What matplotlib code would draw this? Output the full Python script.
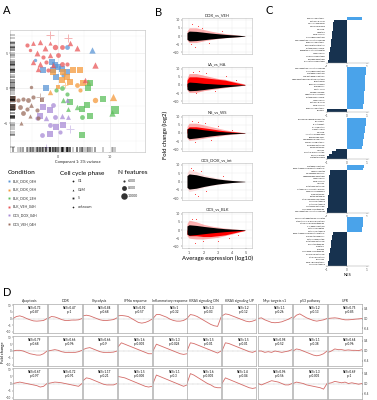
import matplotlib
matplotlib.use("Agg")
import matplotlib.pyplot as plt
import numpy as np

plt.rcParams['font.family'] = ['Lato', 'DejaVu Sans']

W, H = 377, 400
fig = plt.figure(figsize=(W / 100, H / 100), dpi=100)


def add_ax(l, t, r, b):
    return fig.add_axes([l / W, 1 - b / H, (r - l) / W, (b - t) / H])


# ---------------- Panel A data ----------------
cond_names = ["BLK_DOX_04H", "BLK_DOX_08H", "BLK_DOX_24H", "BLK_VEH_04H", "OCS_DOX_04H", "OCS_VEH_04H"]
cond_colors = ["#5b96d6", "#f59a3c", "#5cbf5c", "#e9585a", "#a98bd6", "#9a6e5e"]

blk_dox_04h_x = [-1.2, -0.6, 0.1, -0.9, 0.7, -2.8, 1.7, -2.2, 6.5, 1.7, -4.4, -0.3, 1.0]
blk_dox_04h_y = [3.8, 3.3, 3.0, 2.6, 2.8, 2.6, 2.3, 0.0, 5.4, 5.9, 4.0, 1.6, 1.9]
blk_dox_04h_phase = list("SSSSSSSSMGGSG")
blk_dox_04h_nfeat = [9000, 8500, 9500, 8000, 9000, 9500, 8500, 8000, 9000, 7500, 6500, 8000, 7000]

blk_dox_08h_x = [0.7, 1.7, 2.9, 4.2, 2.3, 3.6, 4.9, 5.8, -1.5, 0.1, 4.2, 7.1, 10.6, -0.9, 1.0, 1.3]
blk_dox_08h_y = [1.1, 1.6, 2.6, 2.6, 0.9, 0.4, 0.7, 0.9, -0.5, 0.2, -0.3, -1.7, -1.2, 2.3, 2.3, 0.4]
blk_dox_08h_phase = list("SSSSSGSMMSGGMSSU")
blk_dox_08h_nfeat = [8500, 8000, 8500, 8000, 9000, 7500, 9000, 8500, 8000, 7500, 7000, 8000, 10000, 8500, 8000, 7000]

blk_dox_24h_x = [-0.3, 0.7, 1.7, 1.0, 2.3, 3.6, 4.6, 5.5, 6.2, 5.8, 8.7, 11.0, 10.3, 6.2, 4.6, 4.6, 2.0]
blk_dox_24h_y = [-0.3, 0.0, -0.8, -1.7, -2.0, -2.7, -2.9, -2.4, 0.7, 0.0, -1.5, -3.1, -3.6, -3.9, -4.1, -6.7, -2.9]
blk_dox_24h_phase = list("GGGMSMSSSSSSMSGSM")
blk_dox_24h_nfeat = [7000, 7500, 7000, 8000, 8500, 8000, 9000, 9500, 8500, 9000, 9000, 10000, 9000, 9500, 7500, 8500, 7500]

blk_veh_04h_x = [-6.0, -4.8, -3.5, -2.5, -1.5, -0.6, 0.7, -4.1, -2.8, -1.5, 0.1, -4.8, -3.5, -2.2, -0.9, 0.7,
                 1.7, 2.3, 3.6, 7.1, 5.2, -5.4, -3.8, -1.9, -1.5, 2.0]
blk_veh_04h_y = [6.1, 6.4, 6.6, 5.7, 6.4, 5.9, 5.9, 5.0, 4.5, 4.7, 4.7, 3.8, 3.5, 3.8, 3.3, 3.5,
                 3.5, 6.4, 5.7, 3.3, 1.1, 5.4, 2.8, 2.6, 7.6, 7.1]
blk_veh_04h_phase = list("GMMMMGGMGMGMMGMGGMMMMGMGUU")
blk_veh_04h_nfeat = [7000, 7500, 8000, 8500, 7000, 8000, 7500, 8500, 7000, 8000, 7500, 8000, 8500, 7000, 8000, 7500,
                     7000, 8000, 8500, 9000, 8000, 6500, 8000, 7000, 9500, 8500]

ocs_dox_04h_x = [-2.8, -1.5, -0.9, -3.5, -2.2, -0.6, 0.7, 2.0, -1.5, -0.3, 1.0, -3.1, -1.5, 0.4, -4.1, 1.7, 2.3, -2.2]
ocs_dox_04h_y = [-2.7, -3.1, -2.4, -3.9, -4.3, -4.1, -3.9, -4.1, -5.3, -5.5, -5.3, -6.7, -6.5, -6.2, -4.3, -1.7, -5.8, -8.4]
ocs_dox_04h_phase = list("SSGSMGMMGSSGSGGMUU")
ocs_dox_04h_nfeat = [8500, 8000, 7500, 8500, 8000, 7500, 8000, 7500, 7500, 8500, 8000, 7500, 8000, 7000, 7000, 7500, 9000, 7500]

ocs_veh_04h_x = [-8.6, -7.6, -6.7, -5.7, -4.8, -7.3, -6.0, -5.1, -4.1, -6.7, -5.4, -3.8, -7.0, -5.1, -3.1, -8.6, -3.5]
ocs_veh_04h_y = [-1.5, -1.7, -1.5, -1.7, -1.2, -2.7, -2.9, -2.4, -3.1, -3.6, -3.9, -4.3, -5.0, 0.2, -1.7, -2.7, -1.2]
ocs_veh_04h_phase = list("SGGGGGGMGGMGMGSSU")
ocs_veh_04h_nfeat = [8000, 7000, 7000, 7500, 7000, 7500, 7000, 7500, 7000, 7500, 7000, 7000, 7000, 6500, 7500, 8000, 9000]

cond_x = [blk_dox_04h_x, blk_dox_08h_x, blk_dox_24h_x, blk_veh_04h_x, ocs_dox_04h_x, ocs_veh_04h_x]
cond_y = [blk_dox_04h_y, blk_dox_08h_y, blk_dox_24h_y, blk_veh_04h_y, ocs_dox_04h_y, ocs_veh_04h_y]
cond_phase = [blk_dox_04h_phase, blk_dox_08h_phase, blk_dox_24h_phase, blk_veh_04h_phase, ocs_dox_04h_phase, ocs_veh_04h_phase]
cond_nfeat = [blk_dox_04h_nfeat, blk_dox_08h_nfeat, blk_dox_24h_nfeat, blk_veh_04h_nfeat, ocs_dox_04h_nfeat, ocs_veh_04h_nfeat]

phase_names = ["G1", "G2M", "S", "unknown"]
phase_codes = ["G", "M", "S", "U"]
phase_markers = {"G": "o", "M": "^", "S": "s", "U": "+"}
nfeat_legend = [6000, 8000, 10000]


def nf_size(v):
    return 3 + (v - 6000) / 4000 * 24


# ---------------- Panel A drawing ----------------
fig.text(3 / W, 1 - 10 / H, "A", fontsize=8, va="center", ha="left")
axA = add_ax(10, 30, 145, 152)
axA.set_xlim(-9.2, 16.7)
axA.set_ylim(-9.1, 8.3)
for ci in range(6):
    for x, y, p, nf in zip(cond_x[ci], cond_y[ci], cond_phase[ci], cond_nfeat[ci]):
        m = phase_markers[p]
        if p == "U":
            axA.scatter([x], [y], s=nf_size(nf) * 1.6, marker="+", color=cond_colors[ci], alpha=0.45, linewidths=0.7, zorder=3)
        else:
            axA.scatter([x], [y], s=nf_size(nf), marker=m, color=cond_colors[ci], alpha=0.75, linewidths=0, zorder=3)
all_x = sum(cond_x, [])
all_y = sum(cond_y, [])
axA.vlines(all_x, 0, 0.045, transform=axA.get_xaxis_transform(), color="black", lw=0.3, zorder=4)
axA.hlines(all_y, 0, 0.035, transform=axA.get_yaxis_transform(), color="black", lw=0.3, zorder=4)
axA.set_xticks([0, 10])
axA.set_yticks([-5, 0, 5])
axA.set_xticks([-5, 5, 15], minor=True)
axA.set_yticks([-7.5, -2.5, 2.5, 7.5], minor=True)
axA.grid(True, which="major", color="#e6e6e6", lw=0.4)
axA.grid(True, which="minor", color="#f2f2f2", lw=0.3)
axA.set_axisbelow(True)
axA.tick_params(labelsize=2.6, length=1, width=0.3, pad=0.8, colors="#444444")
axA.tick_params(which="minor", length=0)
for s in axA.spines.values():
    s.set_color("#bbbbbb")
    s.set_linewidth(0.4)
axA.set_xlabel("Component 1: 3% variance", fontsize=2.8, labelpad=1, color="#222222")

# Legends for A (manual, text-based)
fig.text(8 / W, 1 - 173 / H, "Condition", fontsize=4.6, va="center", ha="left")
for i, (n, c) in enumerate(zip(cond_names, cond_colors)):
    yy = 181 + i * 8.6
    fig.text(13 / W, 1 - yy / H, n, fontsize=2.5, va="center", ha="left", color="#333333")
    fig.lines.append(matplotlib.lines.Line2D([8.5 / W], [1 - yy / H], marker="s", ms=1.4, color=c, mew=0,
                                             transform=fig.transFigure))
fig.text(60 / W, 1 - 173 / H, "Cell cycle phase", fontsize=4.6, va="center", ha="left")
for i, (n, code) in enumerate(zip(phase_names, phase_codes)):
    yy = 181 + i * 8.6
    fig.text(78 / W, 1 - yy / H, n, fontsize=2.5, va="center", ha="left", color="#333333")
    fig.lines.append(matplotlib.lines.Line2D([72.5 / W], [1 - yy / H], marker=phase_markers[code], ms=1.3,
                                             color="#222222", mew=0.4 if code == "U" else 0,
                                             transform=fig.transFigure))
fig.text(118 / W, 1 - 173 / H, "N features", fontsize=4.6, va="center", ha="left")
for i, v in enumerate(nfeat_legend):
    yy = 181 + i * 7.5
    fig.text(128 / W, 1 - yy / H, str(v), fontsize=2.5, va="center", ha="left", color="#333333")
    fig.lines.append(matplotlib.lines.Line2D([123.5 / W], [1 - yy / H], marker="o",
                                             ms=np.sqrt(nf_size(v)) * 0.9, color="#333333", mew=0,
                                             transform=fig.transFigure))

# ---------------- Panel B data ----------------
ma_titles = ["DOX_vs_VEH", "LA_vs_HA", "NS_vs_WS", "OCS_DOX_vs_int", "OCS_vs_BLK"]
ma_x = [0.85, 1.0, 1.5, 2.0, 2.5, 3.0, 3.5, 4.0, 4.5, 4.9]
black_up = [[2.0, 3.0, 2.8, 2.3, 1.8, 1.4, 1.0, 0.7, 0.4, 0.1],
            [1.0, 1.8, 1.5, 1.0, 0.8, 0.5, 0.3, 0.2, 0.1, 0.05],
            [2.5, 3.0, 2.6, 2.0, 1.5, 1.0, 0.7, 0.4, 0.2, 0.1],
            [3.5, 4.5, 4.0, 3.0, 2.2, 1.5, 1.0, 0.6, 0.3, 0.1],
            [2.5, 3.2, 2.8, 2.2, 1.7, 1.2, 0.8, 0.5, 0.3, 0.1]]
black_lo = [[-2.0, -3.0, -2.8, -2.3, -1.8, -1.4, -1.0, -0.7, -0.4, -0.1],
            [-2.5, -3.5, -3.3, -2.8, -2.2, -1.7, -1.2, -0.8, -0.4, -0.1],
            [-2.5, -3.5, -3.0, -2.4, -1.8, -1.3, -0.9, -0.5, -0.3, -0.1],
            [-3.5, -4.5, -4.0, -3.0, -2.2, -1.5, -1.0, -0.6, -0.3, -0.1],
            [-2.5, -3.2, -2.8, -2.3, -1.8, -1.4, -1.0, -0.7, -0.4, -0.1]]
red_dense_up = [[0] * 10,
                [3.0, 5.0, 5.0, 4.5, 4.0, 3.5, 3.0, 2.0, 1.0, 0.3],
                [2.5, 3.8, 3.8, 3.2, 2.6, 1.9, 1.3, 0.8, 0.4, 0.1],
                [0] * 10,
                [0] * 10]
red_dense_lo = [[0] * 10,
                [-1.0, -1.5, -1.0, -0.5, 0, 0, 0, 0, 0, 0],
                [0] * 10,
                [0] * 10,
                [-2.5, -3.5, -3.5, -4.0, -4.0, -3.5, -3.0, -2.0, -1.0, -0.3]]
red_sparse_up = [[3.0, 5.0, 5.0, 4.0, 3.0, 2.2, 1.5, 1.0, 0.5, 0.1],
                 [4.0, 7.0, 7.0, 6.0, 5.0, 4.0, 3.5, 2.5, 1.5, 0.5],
                 [4.0, 6.0, 6.0, 5.0, 4.0, 3.0, 2.0, 1.2, 0.6, 0.2],
                 [5.0, 7.0, 6.0, 4.0, 3.0, 2.0, 1.3, 0.8, 0.4, 0.1],
                 [4.0, 6.0, 5.0, 3.5, 2.5, 1.8, 1.2, 0.8, 0.4, 0.1]]
red_sparse_lo = [[-2.5, -4.0, -4.0, -3.0, -2.2, -1.6, -1.1, -0.8, -0.4, -0.1],
                 [-3.0, -4.5, -4.5, -3.5, -2.8, -2.2, -1.6, -1.0, -0.5, -0.2],
                 [-3.0, -4.5, -4.0, -3.2, -2.5, -2.0, -1.3, -0.8, -0.4, -0.1],
                 [-4.0, -6.0, -5.0, -3.5, -2.5, -1.8, -1.2, -0.7, -0.4, -0.1],
                 [-3.5, -5.0, -5.5, -5.5, -5.0, -4.5, -3.5, -2.5, -1.3, -0.3]]
red_sparse_alpha = [0.3, 0.35, 0.3, 0.12, 0.3]
out_x = [[1.2, 1.6, 1.9, 1.4, 2.4, 3.3, 1.1],
         [1.3, 1.7, 2.2, 3.6, 1.5, 4.3, 2.8],
         [1.2, 1.6, 2.1, 1.4, 3.0, 4.0, 2.5],
         [1.1, 1.4, 1.8, 1.3, 2.2, 1.6, 3.4],
         [1.2, 1.5, 2.0, 3.0, 3.8, 1.4, 4.4]]
out_y = [[7.5, 6.0, 5.0, -6.5, -4.0, 3.0, -5.0],
         [8.0, 8.5, 7.5, 5.5, -5.0, 3.0, -3.5],
         [7.5, 6.5, 6.0, -5.5, 4.0, 2.0, -4.5],
         [8.0, -7.5, 6.5, 7.0, -5.5, -8.5, 3.0],
         [6.5, 7.0, -7.0, -7.0, -5.0, -8.0, -3.0]]
ma_xticks = [1, 2, 3, 4, 5]
ma_yticks = [-10, -5, 0, 5, 10]
ma_rows = [(18, 54), (67, 103), (115, 151), (163, 200), (212, 248)]

fig.text(155 / W, 1 - 12 / H, "B", fontsize=8, va="center", ha="left")
for i, (t, b) in enumerate(ma_rows):
    ax = add_ax(182, t, 252, b)
    ax.set_xlim(0.5, 5.4)
    ax.set_ylim(-11, 11)
    ax.fill_between(ma_x, red_sparse_lo[i], red_sparse_up[i], color="#ff0000", alpha=red_sparse_alpha[i], lw=0, zorder=2)
    ax.fill_between(ma_x, red_dense_lo[i], red_dense_up[i], color="#ff0000", lw=0, zorder=3)
    ax.fill_between(ma_x, black_lo[i], black_up[i], color="black", lw=0, zorder=4)
    ax.scatter(out_x[i], out_y[i], s=0.3, color="#ff0000", lw=0, zorder=5)
    ax.set_yticks(ma_yticks)
    ax.set_xticks(ma_xticks)
    ax.grid(True, color="#ebebeb", lw=0.3)
    ax.set_axisbelow(True)
    ax.tick_params(labelsize=2.6, length=1, width=0.3, pad=0.8, colors="#444444")
    if i < 4:
        ax.tick_params(labelbottom=False, length=0, axis="x")
    for s in ax.spines.values():
        s.set_color("#bbbbbb")
        s.set_linewidth(0.4)
    ax.set_title(ma_titles[i], fontsize=3.0, pad=1.5, color="#222222")
    if i == 4:
        ax.set_xlabel("Average expression (log10)", fontsize=4.3, labelpad=1)
fig.text(165 / W, 1 - 135 / H, "Fold change (log2)", fontsize=4.3, rotation=90, va="center", ha="center")

# ---------------- Panel C data ----------------
c_group1_names = ["p53 signaling pathway", "Pathways in cancer", "Small cell lung cancer", "Cellular senescence",
                  "Cell cycle", "Apoptosis", "Focal adhesion", "Hippo signaling pathway",
                  "Complement and coagulation cascades", "Rap1 signaling pathway", "ECM-receptor interaction",
                  "Proteoglycans in cancer", "Regulation of actin cytoskeleton", "Axon guidance",
                  "MAPK signaling pathway", "Ras signaling pathway", "PI3K-Akt signaling pathway"]
c_group1_nes = [0.75, -0.66, -0.68, -0.70, -0.72, -0.73, -0.75, -0.76, -0.78, -0.80, -0.82, -0.84, -0.86, -0.88,
                -0.90, -0.92, -0.95]
c_group2_names = ["Complement and coagulation cascades", "Hippo signaling pathway", "Wnt signaling pathway",
                  "TGF-beta signaling pathway", "Signaling pathways regulating pluripotency", "Breast cancer",
                  "Basal cell carcinoma", "Melanogenesis", "Gastric cancer", "Cushing syndrome",
                  "Hepatocellular carcinoma", "Proteoglycans in cancer", "Axon guidance", "Pathways in cancer",
                  "Focal adhesion", "Rap1 signaling pathway", "Ribosome"]
c_group2_nes = [0.95, 0.94, 0.93, 0.92, 0.92, 0.91, 0.90, 0.89, 0.88, 0.87, 0.86, 0.85, 0.84, 0.83, 0.82, 0.80, -0.98]
c_group3_names = ["Ribosome biogenesis in eukaryotes", "Spliceosome", "RNA transport", "DNA replication",
                  "Mismatch repair", "Cell cycle", "Nucleotide excision repair", "Base excision repair",
                  "Homologous recombination", "Fanconi anemia pathway", "Pyrimidine metabolism",
                  "Purine metabolism", "Lysosome", "Oxidative phosphorylation", "Parkinson disease",
                  "Huntington disease"]
c_group3_nes = [0.97, 0.95, 0.93, 0.92, 0.90, 0.88, 0.86, 0.84, 0.82, 0.80, 0.78, 0.75, -0.55, -0.75, -0.88, -0.98]
c_group4_names = ["Wnt signaling pathway", "EGFR tyrosine kinase inhibitor resistance", "Adherens junction",
                  "Cell adhesion molecules", "Hedgehog signaling pathway", "Axon guidance", "Focal adhesion",
                  "Lysosome", "Glutathione metabolism", "Metabolism of xenobiotics by P450",
                  "Chemical carcinogenesis", "Drug metabolism", "Retinol metabolism",
                  "Steroid hormone biosynthesis", "Tyrosine metabolism", "Histidine metabolism",
                  "Tryptophan metabolism", "Arachidonic acid metabolism", "Complement and coagulation cascades"]
c_group4_nes = [0.85, 0.80, -0.86, -0.87, -0.88, -0.88, -0.89, -0.90, -0.90, -0.91, -0.92, -0.92, -0.93, -0.94,
                -0.95, -0.96, -0.97, -0.98, -1.00]
c_group5_names = ["Carbohydrate digestion and absorption", "Other types of O-glycan biosynthesis",
                  "Starch and sucrose metabolism", "TNF signaling pathway", "Fatty acid elongation",
                  "Fatty acid metabolism", "EGFR tyrosine kinase inhibitor resistance", "Ovarian steroidogenesis",
                  "Fatty acid degradation", "Glutathione metabolism", "Pyruvate metabolism", "Ferroptosis",
                  "Melanoma", "Arachidonic acid metabolism", "Glycerolipid metabolism", "Steroid biosynthesis",
                  "Peroxisome", "PPAR signaling pathway", "Tyrosine metabolism"]
c_group5_nes = [0.80, 0.79, 0.78, 0.78, 0.77, 0.76, -0.72, -0.74, -0.76, -0.78, -0.80, -0.82, -0.84, -0.86,
                -0.88, -0.90, -0.92, -0.94, -0.96]
c_names = [c_group1_names, c_group2_names, c_group3_names, c_group4_names, c_group5_names]
c_nes = [c_group1_nes, c_group2_nes, c_group3_nes, c_group4_nes, c_group5_nes]
c_rows = [(17, 63), (67, 112), (118, 159), (165, 213), (217, 266)]
c_pos_color = "#4aa3ea"
c_neg_color = "#17324f"

fig.text(266 / W, 1 - 10 / H, "C", fontsize=8, va="center", ha="left")
for g, (t, b) in enumerate(c_rows):
    ax = add_ax(326, t, 369, b)
    vals = c_nes[g]
    ypos = np.arange(len(vals))
    cols = [c_pos_color if v > 0 else c_neg_color for v in vals]
    ax.barh(ypos, vals, height=1.0, color=cols, lw=0)
    ax.set_ylim(len(vals) - 0.5, -0.5)
    ax.set_xlim(-1.05, 1.1)
    ax.set_yticks(ypos)
    ax.set_yticklabels(c_names[g])
    ax.set_xticks([-1, 0, 1])
    ax.tick_params(axis="y", labelsize=1.3, length=0, pad=1)
    ax.tick_params(axis="x", labelsize=2.2, length=0.8, width=0.3, pad=0.5, colors="#555555")
    for k, s in ax.spines.items():
        s.set_visible(k == "bottom")
        s.set_linewidth(0.3)
        s.set_color("#999999")
    if g == 4:
        ax.set_xlabel("NES", fontsize=3.0, labelpad=1)

# ---------------- Panel D data ----------------
d_cols = ["Apoptosis", "DDR", "Glycolysis", "IFNα response", "Inflammatory response", "KRAS signaling DN",
          "KRAS signaling UP", "Myc targets v1", "p53 pathway", "UPR"]
d_rank = [0, 1, 2, 3, 4, 5, 6, 7, 8, 9, 10]
d_curves_row1 = [[0, 1.5, 2, 1.2, 0, -1, -1.8, -2, -1.8, -1.5, 0],
                 [0, 1.5, 1.2, 0.3, -0.8, -1.5, -1.5, -1.2, -1.2, -1, 0],
                 [2, 2.5, 2, 1, 0, -1, -1.5, -1.5, -1.2, -0.8, 0.5],
                 [2, 2.3, 2, 1.5, 0, -1.5, -3, -3.5, -3, -2, -0.5],
                 [0, 3, 3, 2, 1, -0.5, -1.5, -2, -2, -1.5, 0],
                 [0, 3, 2.5, 1.5, 0, -1.5, -3, -4.5, -5.5, -6, 1],
                 [2, 3.5, 3, 2, 1, 0, -1, -2, -2.5, -2, -1],
                 [0, 0.5, -1, -2, -3, -3.2, -3, -2.5, -1.5, -0.5, 1],
                 [0, 2.5, 3.5, 2, 0.5, -0.5, -1.5, -2, -1.5, -1, 0],
                 [0, 0.3, 0.5, 0.2, -0.5, -1, -1, -0.8, -0.5, -0.3, 0]]
d_curves_row2 = [[0, 0.5, 0.5, 0, -1, -2, -2.5, -3, -3, -2, 0],
                 [0, 0.5, 1, 0.5, -0.5, -1, -1, -1, -1, -0.5, 0.5],
                 [1, 2, 2.5, 1.5, 0.5, -0.5, -1, -1, -1, -0.8, 0],
                 [3, 6, 5, 4, 3, 2, 1, 0, -1, -2, -2],
                 [0, 5, 4, 3, 2, 1, 0, -1, -2, -2.5, -2],
                 [0, 6, 5.5, 4.5, 3.5, 2.5, 1.5, 0.5, -0.5, -1.5, 0],
                 [0, 6, 5.5, 4.5, 3.5, 2.5, 1.5, 0.5, -0.5, -1, 0],
                 [0, 0, -1, -0.5, -1, 0, -0.5, -1, -0.5, 0, 1],
                 [0, 1.5, 1, 0, -1, -2, -3, -3.5, -3, -2, 0],
                 [-1, 0, 1.5, 1, 1, 0.5, 0.8, 0.5, 0.5, 0.3, 1]]
d_curves_row3 = [[0, 0.5, 1, 0.5, 0, -0.5, -1, -1.5, -2.5, -2, 0],
                 [0, 0.5, 1, 0.8, 0.5, 0, -0.5, -1, -1.5, -2, 0],
                 [2, 4, 3.5, 2.5, 1.5, 0.5, -0.5, -1, -1, -1, 0],
                 [5, 4.5, 4, 3, 2, 1, 0, -1, -2, -2.5, -2],
                 [0, 6, 5, 4, 3, 2, 1, 0, -1, -2, -1],
                 [0, 7, 6, 4.5, 3, 1.5, 0, -1, -2.5, -3, -3],
                 [0, 4, 3, 2, 1, 0, -1, -2, -3, -3.5, -3],
                 [0, -1, 0, 1, 2, 1.5, 1, 0, -1, -1, 0],
                 [0, 1, 0.5, 0, -1, -1.5, -2, -2.5, -3, -4, 0],
                 [0, 0.5, 1.5, 1, 0.5, 1, 0, 0.5, 0, -0.5, 0]]
d_nes_row1 = ["0.73", "0.47", "0.84", "0.92", "1", "1.3", "1.2", "1.1", "1.2", "0.75"]
d_p_row1 = ["0.87", "1", "0.68", "0.57", "0.32", "0.03", "0.12", "0.26", "0.13", "0.85"]
d_nes_row2 = ["0.79", "0.66", "0.66", "1.6", "1.3", "1.5", "1.5", "0.98", "1.1", "0.64"]
d_p_row2 = ["0.68", "0.96", "0.9", "0.003", "0.028", "0.01", "0.01", "0.52", "0.38", "0.96"]
d_nes_row3 = ["0.67", "0.72", "1.17", "1.5", "1.1", "1.6", "1.4", "0.96", "1.3", "0.69"]
d_p_row3 = ["0.97", "0.91", "0.21", "0.005", "0.3", "0.003", "0.04", "0.56", "0.003", "1"]
d_curves = [d_curves_row1, d_curves_row2, d_curves_row3]
d_nes = [d_nes_row1, d_nes_row2, d_nes_row3]
d_p = [d_p_row1, d_p_row2, d_p_row3]
d_col_left = [13, 48, 83, 118, 153, 187, 222, 258, 293, 328]
d_row_tb = [(304, 333), (336, 366), (368, 399)]
d_yticks = [-10, -5, 0, 5, 10]
d_es_ticks = [-0.4, 0.0, 0.4]

fig.text(3 / W, 1 - 292 / H, "D", fontsize=8, va="center", ha="left")
for r, (t, b) in enumerate(d_row_tb):
    for c, l in enumerate(d_col_left):
        ax = add_ax(l, t, l + 34, b)
        ax.set_xlim(0, 10)
        ax.set_ylim(-11, 11)
        ax.axhline(0, color="#9a9a9a", lw=0.3, ls=(0, (2, 1)))
        ax.plot(d_rank, d_curves[r][c], color="#cf5c58", lw=0.6, alpha=0.9)
        ax.text(0.62, 0.8, "NES=" + d_nes[r][c] + "\np=" + d_p[r][c], transform=ax.transAxes,
                fontsize=2.2, ha="center", va="center", linespacing=0.9)
        ax.set_xticks([])
        ax.set_yticks(d_yticks)
        ax.tick_params(labelsize=2.2, length=0.8, width=0.3, pad=0.5, colors="#444444")
        if c > 0:
            ax.tick_params(labelleft=False, length=0)
        for s in ax.spines.values():
            s.set_color("#aaaaaa")
            s.set_linewidth(0.5)
        if r == 0:
            ax.set_title(d_cols[c], fontsize=2.5, pad=1.5, color="#222222")
        if c == 9:
            ax2 = ax.twinx()
            ax2.set_ylim(-0.6, 0.6)
            ax2.set_yticks(d_es_ticks)
            ax2.set_yticklabels(["-0.4", "0.0", "0.4"])
            ax2.tick_params(labelsize=2.2, length=0.8, width=0.3, pad=0.5, colors="#444444")
            for s in ax2.spines.values():
                s.set_visible(False)
fig.text(3 / W, 1 - 352 / H, "Fold change", fontsize=3.0, rotation=90, va="center", ha="center")

fig.savefig("out.png", dpi=100)
